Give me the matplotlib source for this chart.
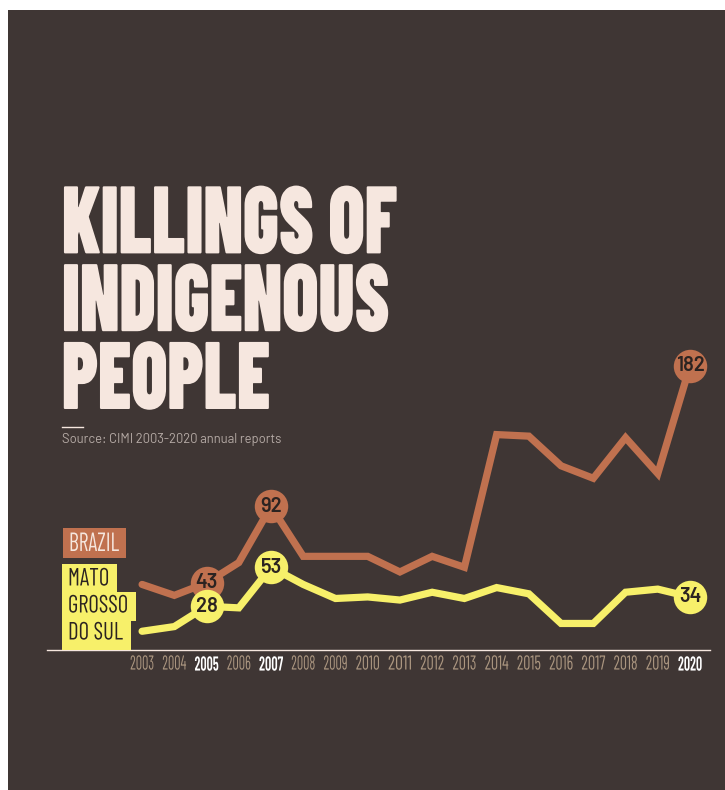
import numpy as np
import matplotlib.pyplot as plt
from matplotlib.patches import Rectangle
from matplotlib.patheffects import AbstractPathEffect
from matplotlib.transforms import Affine2D

years = list(range(2003, 2021))
brazil = [42, 35, 43, 56, 92, 60, 60, 60, 50, 60, 53, 138, 137, 118, 110, 136, 113, 182]
mato_grosso = [12, 15, 28, 27, 53, 42, 33, 34, 32, 37, 33, 40, 36, 17, 17, 37, 39, 34]
bold_years = [2005, 2007, 2020]
title = 'KILLINGS OF\nINDIGENOUS\nPEOPLE'
ms_lines = ['MATO', 'GROSSO', 'DO SUL']

BG = '#3f3634'
RUST = '#c0714f'
YELLOW = '#f7f06a'
CREAM = '#f6e7df'
TAN = '#ab9680'
DARK = '#2b2321'

COND = ['Barlow Condensed', 'Roboto Condensed', 'DejaVu Sans']
PLAIN = ['Barlow', 'Lato', 'DejaVu Sans']


class Squeeze(AbstractPathEffect):
    # narrows glyphs horizontally around x0 (pixels)
    def __init__(self, x0, sx):
        super().__init__()
        self.x0 = x0
        self.sx = sx

    def draw_path(self, renderer, gc, tpath, affine, rgbFace=None):
        t = affine + Affine2D().translate(-self.x0, 0).scale(self.sx, 1).translate(self.x0, 0)
        renderer.draw_path(gc, tpath, t, rgbFace)


W, H = 725, 790
fig = plt.figure(figsize=(W / 100, H / 100), dpi=100)
fig.patch.set_facecolor('white')
fig.patches.append(Rectangle((8 / W, 0), 1, 1 - 10 / H, transform=fig.transFigure,
                             facecolor=BG, edgecolor='none', zorder=-10))


def px(x, y):
    return x / W, 1 - y / H


# plot area, in pixels: x 47..710, baseline at y=650
ax = fig.add_axes([47 / W, (H - 650) / H, 663 / W, 320 / H])
ax.set_facecolor('none')
ax.set_xlim(2000.05, 2020.62)
ax.set_ylim(0, 205)
for s in ['top', 'right', 'left']:
    ax.spines[s].set_visible(False)
ax.spines['bottom'].set_color(CREAM)
ax.spines['bottom'].set_linewidth(1)
ax.set_yticks([])
ax.set_xticks(years)
ax.set_xticklabels([str(y) for y in years], family=COND, fontsize=14.5)
ax.tick_params(axis='x', length=0, pad=4)
for lab, y in zip(ax.get_xticklabels(), years):
    if y in bold_years:
        lab.set_color('white')
        lab.set_fontweight(600)
    else:
        lab.set_color(TAN)

ax.plot(years, brazil, color=RUST, lw=5.2, solid_joinstyle='miter', solid_capstyle='round', zorder=2)
ax.plot(years, mato_grosso, color=YELLOW, lw=5.2, solid_joinstyle='miter', solid_capstyle='round', zorder=3)

for y in bold_years:
    i = years.index(y)
    for vals, col, z in [(brazil, RUST, 4), (mato_grosso, YELLOW, 5)]:
        ax.scatter([y], [vals[i]], s=580, color=col, zorder=z, clip_on=False, linewidths=0)
        ax.text(y, vals[i], str(vals[i]), ha='center', va='center', fontsize=14.5,
                fontweight=600, color=DARK, zorder=z + 0.5, family=PLAIN)

# title, last baseline at y=409 px
ls0 = 1.0
ttl = fig.text(*px(62, 409), title, ha='left', va='baseline', fontsize=69, linespacing=ls0,
               fontweight=900, color=CREAM, family=COND)

fig.lines.append(plt.Line2D([62 / W, 83 / W], [1 - 427 / H] * 2, transform=fig.transFigure,
                            color=CREAM, lw=1))
src = fig.text(*px(62, 440), 'Source: CIMI 2003-2020 annual reports', ha='left', va='center',
               fontsize=10, color='#b5aaa5', family=PLAIN)

# legend labels
brz = fig.text(*px(69, 544), 'BRAZIL', ha='left', va='center', fontsize=19, color=CREAM,
               family=COND, zorder=3)
ms_texts = []
for k, line in enumerate(ms_lines):
    ms_texts.append(fig.text(*px(68, 579 + k * 27), line, ha='left', va='center', fontsize=18,
                             color=DARK, family=COND, zorder=3))

# fit sizes to the measured reference widths
fig.canvas.draw()
r = fig.canvas.get_renderer()

# title line pitch -> 76 px
one = fig.text(0, 0, 'KILLINGS OF', fontsize=69, fontweight=900, family=COND)
h1 = one.get_window_extent(r).height
w1 = one.get_window_extent(r).width
one.remove()
pitch = (ttl.get_window_extent(r).height - h1) / 2
ttl.set_linespacing(ls0 * 76 / pitch)
sx_title = 335 / w1
if abs(sx_title - 1) > 0.02:
    ttl.set_path_effects([Squeeze(62, sx_title)])

src.set_fontsize(10 * 220 / src.get_window_extent(r).width)

for lab, y in zip(ax.get_xticklabels(), years):
    w = lab.get_window_extent(r).width
    if w > 24:
        lab.set_path_effects([Squeeze(ax.transData.transform((y, 0))[0], 24 / w)])

sx_brz = 50 / brz.get_window_extent(r).width
brz.set_path_effects([Squeeze(69, sx_brz)])
fig.patches.append(Rectangle(px(63, 558), 63 / W, 30 / H, transform=fig.transFigure,
                             facecolor=RUST, edgecolor='none', zorder=1))
sx_ms = 60 / ms_texts[1].get_window_extent(r).width
row_edges = [564, 592, 621, 650]
for k, t in enumerate(ms_texts):
    wpx = t.get_window_extent(r).width * sx_ms + 6 + 8
    t.set_path_effects([Squeeze(68, sx_ms)])
    top, bot = row_edges[k], row_edges[k + 1]
    fig.patches.append(Rectangle(px(62, bot), wpx / W, (bot - top) / H, transform=fig.transFigure,
                                 facecolor=YELLOW, edgecolor='none', zorder=1))

fig.savefig('out.png', dpi=100, facecolor=fig.get_facecolor())
